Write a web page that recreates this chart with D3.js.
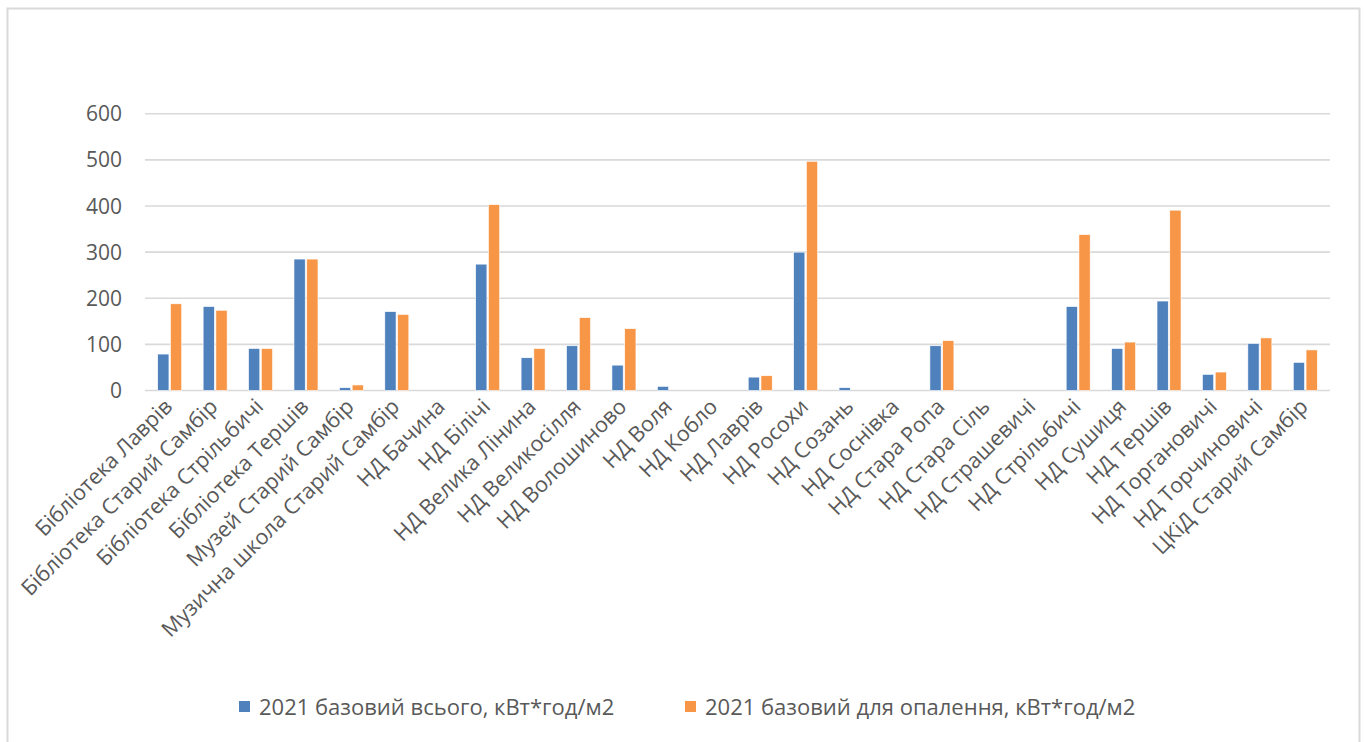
<!DOCTYPE html>
<html>
<head>
<meta charset="utf-8">
<script src="https://cdn.jsdelivr.net/npm/d3@7"></script>
<style>
  html, body { margin: 0; padding: 0; background: #fff; }
  svg { display: block; }
  text { font-family: "Open Sans", "Noto Sans", sans-serif; fill: #595959; }
</style>
</head>
<body>
<svg id="chart" width="1364" height="742"></svg>
<script>
const categories = [
  "Бібліотека Лаврів", "Бібліотека Старий Самбір", "Бібліотека Стрільбичі", "Бібліотека Тершів",
  "Музей Старий Самбір", "Музична школа Старий Самбір", "НД Бачина", "НД Білічі",
  "НД Велика Лінина", "НД Великосілля", "НД Волошиново", "НД Воля", "НД Кобло",
  "НД Лаврів", "НД Росохи", "НД Созань", "НД Соснівка", "НД Стара Ропа", "НД Стара Сіль",
  "НД Страшевичі", "НД Стрільбичі", "НД Сушиця", "НД Тершів", "НД Торгановичі",
  "НД Торчиновичі", "ЦКіД Старий Самбір"
];
const seriesNames = ["2021 базовий всього, кВт*год/м2", "2021 базовий для опалення, кВт*год/м2"];
const totalValues =   [79, 182, 91, 285, 6, 171, 0, 274, 71, 97, 55, 9, 0, 29, 300, 6, 0, 97, 0, 0, 182, 91, 194, 35, 102, 61];
const heatingValues = [188, 174, 91, 285, 12, 165, 0, 403, 91, 158, 134, 0, 0, 32, 497, 0, 0, 108, 0, 0, 338, 105, 391, 40, 114, 88];
const yTicks = [0, 100, 200, 300, 400, 500, 600];
const colors = ["#4f81bd", "#f79646"];

const svg = d3.select("#chart");

// outer chart border
svg.append("rect")
  .attr("x", 7.5).attr("y", 8.5).attr("width", 1352).attr("height", 760)
  .attr("fill", "none").attr("stroke", "#d9d9d9").attr("stroke-width", 2);

const y = d3.scaleLinear().domain([0, 600]).range([390.5, 113.8]);
const x0 = d3.scaleBand().domain(categories).range([147, 1328]).padding(0);
const x1 = d3.scaleBand().domain([0, 1]).range([0, 24]).paddingInner(0.12);

// gridlines
svg.append("g").selectAll("line").data(yTicks).join("line")
  .attr("x1", 145).attr("x2", 1330)
  .attr("y1", d => y(d)).attr("y2", d => y(d))
  .attr("stroke", "#d9d9d9").attr("stroke-width", 1.6);

// y labels
svg.append("g").selectAll("text").data(yTicks).join("text")
  .attr("x", 122).attr("y", d => y(d))
  .attr("dy", "0.36em")
  .attr("text-anchor", "end")
  .attr("font-size", 21)
  .text(d => d);

// bars
const rows = categories.map((c, i) => ({ c, v: [totalValues[i], heatingValues[i]] }));
const groups = svg.append("g").selectAll("g").data(rows).join("g")
  .attr("transform", d => `translate(${x0(d.c) + x0.bandwidth() / 2 - 12},0)`);
groups.selectAll("rect").data(d => d.v.map((v, k) => ({ v, k }))).join("rect")
  .filter(d => d.v > 0)
  .attr("x", d => x1(d.k))
  .attr("width", x1.bandwidth())
  .attr("y", d => y(d.v))
  .attr("height", d => y(0) - y(d.v))
  .attr("fill", d => colors[d.k])
  .attr("stroke", "#ffffff").attr("stroke-width", 0.6);

// x labels
svg.append("g").selectAll("text").data(categories).join("text")
  .attr("transform", d => `translate(${x0(d) + x0.bandwidth() / 2 + 4},${408}) rotate(-45)`)
  .attr("text-anchor", "end")
  .attr("font-size", 21.5)
  .text(d => d);

// legend
const legendX = [239, 685];
const lg = svg.append("g").selectAll("g").data(seriesNames).join("g")
  .attr("transform", (d, i) => `translate(${legendX[i]},0)`);
lg.append("rect").attr("x", 0).attr("y", 701).attr("width", 11).attr("height", 11)
  .attr("fill", (d, i) => colors[i]);
lg.append("text").attr("x", 20).attr("y", 714.5).attr("font-size", 22).text(d => d);
</script>
</body>
</html>
